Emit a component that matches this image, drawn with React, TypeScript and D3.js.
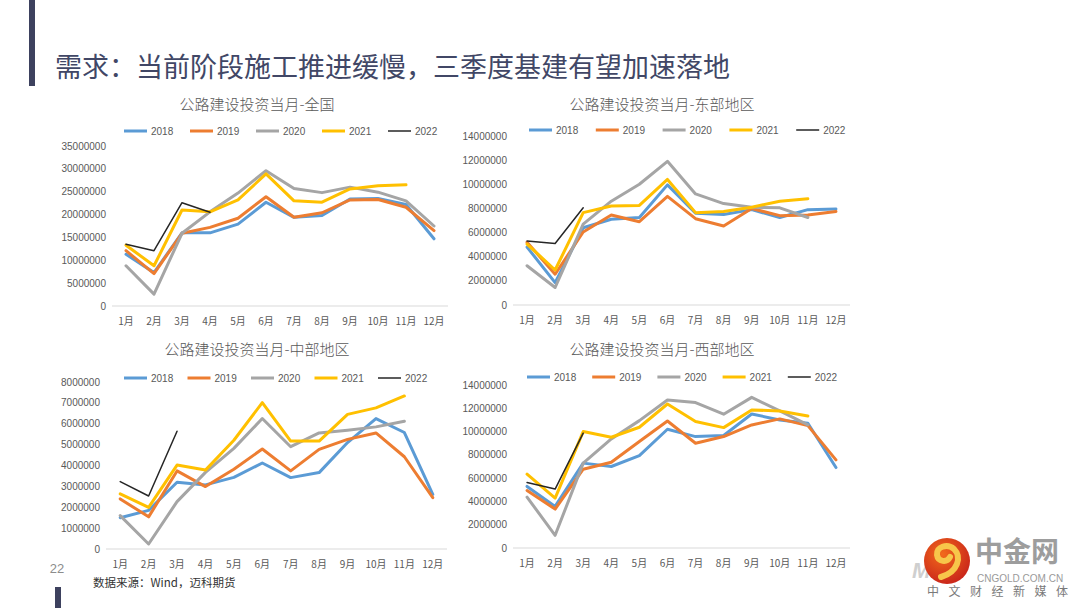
import * as d3 from "d3"

const months = ["1月", "2月", "3月", "4月", "5月", "6月", "7月", "8月", "9月", "10月", "11月", "12月"]
const years = ["2018", "2019", "2020", "2021", "2022"]
const colors = ["#5B9BD5", "#ED7D31", "#A5A5A5", "#FFC000", "#262626"]

// 全国
const n2018 = [11300000, 7300000, 16000000, 16000000, 17900000, 22700000, 19400000, 19800000, 23400000, 23500000, 22200000, 14700000]
const n2019 = [12100000, 7100000, 15900000, 17200000, 19200000, 23900000, 19400000, 20400000, 23200000, 23300000, 21600000, 16500000]
const n2020 = [8800000, 2600000, 15900000, 20600000, 24700000, 29600000, 25700000, 24800000, 26000000, 24900000, 23000000, 17500000]
const n2021 = [13300000, 8800000, 21000000, 20600000, 23200000, 28900000, 23000000, 22700000, 25600000, 26300000, 26500000]
const n2022 = [13500000, 12100000, 22600000, 20500000]

// 东部地区
const e2018 = [4800000, 1850000, 6400000, 7100000, 7250000, 9950000, 7600000, 7500000, 7900000, 7250000, 7900000, 7950000]
const e2019 = [5200000, 2550000, 6050000, 7450000, 6900000, 9000000, 7150000, 6550000, 8000000, 7400000, 7450000, 7750000]
const e2020 = [3250000, 1450000, 6700000, 8600000, 10000000, 11900000, 9200000, 8400000, 8100000, 8050000, 7250000]
const e2021 = [5050000, 2900000, 7650000, 8200000, 8250000, 10400000, 7650000, 7750000, 8100000, 8600000, 8800000]
const e2022 = [5300000, 5100000, 8050000]

// 中部地区
const c2018 = [1500000, 1850000, 3200000, 3070000, 3430000, 4120000, 3420000, 3660000, 5100000, 6250000, 5580000, 2620000]
const c2019 = [2400000, 1540000, 3740000, 2990000, 3820000, 4790000, 3740000, 4770000, 5250000, 5560000, 4420000, 2460000]
const c2020 = [1600000, 240000, 2270000, 3670000, 4820000, 6250000, 4900000, 5560000, 5690000, 5850000, 6120000]
const c2021 = [2640000, 1990000, 4020000, 3780000, 5210000, 7010000, 5170000, 5170000, 6450000, 6760000, 7330000]
const c2022 = [3230000, 2540000, 5640000]

// 西部地区
const w2018 = [5290000, 3570000, 7290000, 7000000, 7940000, 10200000, 9570000, 9660000, 11510000, 11000000, 10710000, 6910000]
const w2019 = [4940000, 3340000, 6770000, 7370000, 9140000, 10910000, 9000000, 9570000, 10570000, 11090000, 10510000, 7570000]
const w2020 = [4370000, 1090000, 7290000, 9370000, 10940000, 12710000, 12490000, 11490000, 12940000, 11770000, 10570000]
const w2021 = [6340000, 4290000, 10000000, 9510000, 10370000, 12370000, 10860000, 10340000, 11860000, 11770000, 11340000]
const w2022 = [5630000, 5060000, 9860000]

const FONT = "'Liberation Sans', 'Noto Sans CJK SC', sans-serif"
const CJK = "'Noto Sans CJK SC', sans-serif"
const TXT = "#595959"

interface ChartProps {
  title: string
  series: number[][]
  yMax: number
  yStep: number
  left: number
  right: number
  top: number
  bottom: number
  titleX: number
  titleY: number
  legendX: number
  legendGap: number
  legendY: number
}

function LineChart(p: ChartProps) {
  const x = d3.scaleBand<string>().domain(months).range([p.left, p.right]).padding(0)
  const y = d3.scaleLinear().domain([0, p.yMax]).range([p.bottom, p.top])
  const ticks = d3.range(0, p.yMax + 1, p.yStep)
  const cx = (i: number) => (x(months[i]) as number) + x.bandwidth() / 2
  const line = d3.line<number>().x((_, i) => cx(i)).y(d => y(d))

  return (
    <g>
      <text x={p.titleX} y={p.titleY} textAnchor="middle" dominantBaseline="central"
        fontFamily={CJK} fontSize={15} fontWeight={300} fill={TXT}>{p.title}</text>

      {years.map((yr, i) => {
        const lx = p.legendX + i * p.legendGap
        return (
          <g key={yr}>
            <line x1={lx} x2={lx + 23} y1={p.legendY} y2={p.legendY} stroke={colors[i]}
              strokeWidth={i === 4 ? 1.5 : 3} />
            <text x={lx + 27} y={p.legendY} dominantBaseline="central" fontFamily={FONT}
              fontSize={10} fill={TXT}>{yr}</text>
          </g>
        )
      })}

      {ticks.map(t => (
        <text key={t} x={p.left - 6} y={y(t)} textAnchor="end" dominantBaseline="central"
          fontFamily={FONT} fontSize={10} fill={TXT}>{t}</text>
      ))}

      <line x1={p.left} x2={p.right} y1={p.bottom} y2={p.bottom} stroke="#d9d9d9" strokeWidth={1} />

      {months.map((m, i) => (
        <text key={m} x={cx(i)} y={p.bottom + 14} textAnchor="middle" dominantBaseline="central"
          fontFamily={CJK} fontSize={10} fill={TXT}>{m}</text>
      ))}

      {p.series.map((s, i) => (
        <path key={i} d={line(s) as string} fill="none" stroke={colors[i]}
          strokeWidth={i === 4 ? 1.5 : 3} strokeLinejoin="round" strokeLinecap="round" />
      ))}
    </g>
  )
}

export default function App() {
  return (
    <svg width={1080} height={608} style={{ position: "absolute", left: 0, top: 0, background: "#fff" }}>
      <rect x={0} y={0} width={1080} height={608} fill="#fff" />
      <rect x={29} y={0} width={6} height={86} fill="#3d415e" />
      <text x={55} y={77} fontFamily={CJK} fontSize={27} fill="#414766">
        需求：当前阶段施工推进缓慢，三季度基建有望加速落地
      </text>

      <LineChart title="公路建设投资当月-全国" series={[n2018, n2019, n2020, n2021, n2022]}
        yMax={35000000} yStep={5000000} left={112} right={448} top={146} bottom={306}
        titleX={257} titleY={103} legendX={124} legendGap={66} legendY={131} />
      <LineChart title="公路建设投资当月-东部地区" series={[e2018, e2019, e2020, e2021, e2022]}
        yMax={14000000} yStep={2000000} left={513} right={850} top={136} bottom={305}
        titleX={662} titleY={103} legendX={529} legendGap={66.8} legendY={130} />
      <LineChart title="公路建设投资当月-中部地区" series={[c2018, c2019, c2020, c2021, c2022]}
        yMax={8000000} yStep={1000000} left={106} right={447} top={382} bottom={549}
        titleX={257} titleY={348} legendX={124} legendGap={63.5} legendY={378} />
      <LineChart title="公路建设投资当月-西部地区" series={[w2018, w2019, w2020, w2021, w2022]}
        yMax={14000000} yStep={2000000} left={513} right={850} top={385} bottom={548}
        titleX={662} titleY={348} legendX={527} legendGap={65.2} legendY={377} />

      <text x={57} y={568} textAnchor="middle" dominantBaseline="central" fontFamily={FONT}
        fontSize={13} fill="#8c8c8c">22</text>
      <rect x={55} y={587} width={6} height={21} fill="#3d415e" />
      <text x={93} y={582} dominantBaseline="central" fontFamily={CJK} fontSize={11.5} fill="#333">
        数据来源：Wind，迈科期货
      </text>

      {/* logo */}
      <text x={912} y={578} fontFamily={FONT} fontSize={22} fontWeight="bold" fontStyle="italic"
        fill="#cfcfcf">Mac</text>
      <defs>
        <radialGradient id="lg" cx="40%" cy="35%" r="70%">
          <stop offset="0%" stopColor="#f26a1b" />
          <stop offset="100%" stopColor="#c8231a" />
        </radialGradient>
      </defs>
      <circle cx={947} cy={561} r={23} fill="url(#lg)" />
      <path d="M941,577 C958,572 962,557 954,549 C947,543 936,547 937,555 C938,562 947,563 950,557"
        fill="none" stroke="#f7c64a" strokeWidth={6} strokeLinecap="round" />
      <text x={975} y={562} fontFamily={CJK} fontSize={28} fontWeight="bold" fill="#9d9d9d">中金网</text>
      <text x={977} y={582} fontFamily={FONT} fontSize={10} fill="#9a9a9a">CNGOLD.COM.CN</text>
      <text x={927} y={596} fontFamily={CJK} fontSize={12} fill="#7a7a7a" letterSpacing={9.5}>中文财经新媒体</text>
    </svg>
  )
}
